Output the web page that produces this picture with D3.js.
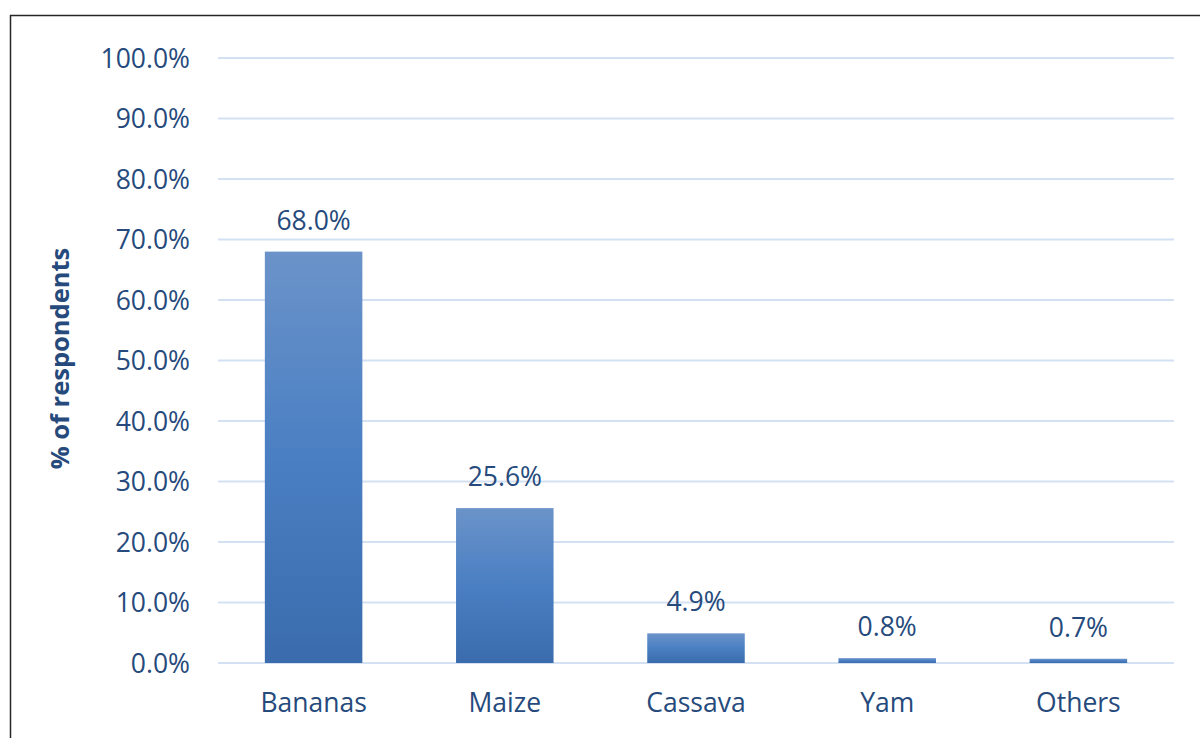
<!DOCTYPE html>
<html>
<head>
<meta charset="utf-8">
<script src="https://cdn.jsdelivr.net/npm/d3@7"></script>
<style>
  body { margin: 0; background: #fff; }
  svg text { font-family: "Open Sans", sans-serif; fill: #264a7c; }
</style>
</head>
<body>
<svg id="chart" width="1200" height="738"></svg>
<script>
// data
const categories = ["Bananas", "Maize", "Cassava", "Yam", "Others"];
const values = [68.0, 25.6, 4.9, 0.8, 0.7];
const yTicks = [0, 10, 20, 30, 40, 50, 60, 70, 80, 90, 100];

//dimensions
const width = 1200;
const height = 738;
const margin = { left: 218, right: 26, top: 58, bottom: 75 };

const svg = d3.select("#chart");

// chart frame
svg.append("path")
    .attr("d", "M10.5,738 L10.5,15.5 L1200,15.5")
    .attr("fill", "none")
    .attr("stroke", "#262626")
    .attr("stroke-width", 1.5);

const x = d3.scaleBand()
    .domain(categories)
    .range([margin.left, width - margin.right])
    .paddingInner(0.49)
    .paddingOuter(0.245);

const y = d3.scaleLinear()
    .domain([0, 100])
    .range([height - margin.bottom, margin.top]);

// gradient for bars
const defs = svg.append("defs");
const grad = defs.append("linearGradient")
    .attr("id", "barGrad")
    .attr("x1", 0).attr("y1", 0).attr("x2", 0).attr("y2", 1);
grad.append("stop").attr("offset", "0%").attr("stop-color", "#6b93c9");
grad.append("stop").attr("offset", "50%").attr("stop-color", "#4a7fc3");
grad.append("stop").attr("offset", "100%").attr("stop-color", "#3a6cad");

// gridlines
svg.append("g")
    .attr("class", "grid")
    .selectAll("line")
    .data(yTicks)
    .join("line")
        .attr("x1", margin.left)
        .attr("x2", width - margin.right)
        .attr("y1", d => y(d))
        .attr("y2", d => y(d))
        .attr("stroke", "#d4e1f3")
        .attr("stroke-width", 2);

// y axis labels
const yAxis = d3.axisLeft(y)
    .tickValues(yTicks)
    .tickSize(0)
    .tickPadding(28)
    .tickFormat(d => d.toFixed(1) + "%");
const yAxisG = svg.append("g")
    .attr("transform", "translate(" + margin.left + ",0)")
    .call(yAxis);
yAxisG.select(".domain").remove();
yAxisG.selectAll("text")
    .style("font-size", "26.5px")
    .attr("dy", "0.35em")
    .style("font-family", "'Open Sans', sans-serif")
    .attr("fill", "#264a7c");

// bars
svg.append("g")
    .selectAll("rect")
    .data(values)
    .join("rect")
        .attr("x", (d, i) => x(categories[i]))
        .attr("width", x.bandwidth())
        .attr("y", d => y(d))
        .attr("height", d => y(0) - y(d))
        .attr("fill", "url(#barGrad)");

// value labels
svg.append("g")
    .selectAll("text")
    .data(values)
    .join("text")
        .attr("x", (d, i) => x(categories[i]) + x.bandwidth() / 2)
        .attr("y", d => y(d) - 22)
        .attr("text-anchor", "middle")
        .style("font-size", "26.5px")
        .text(d => d.toFixed(1) + "%");

// x axis labels
const xAxis = d3.axisBottom(x).tickSize(0).tickPadding(30);
const xAxisG = svg.append("g")
    .attr("transform", "translate(0," + y(0) + ")")
    .call(xAxis);
xAxisG.select(".domain").remove();
xAxisG.selectAll("text")
    .style("font-size", "26.5px")
    .style("font-family", "'Open Sans', sans-serif")
    .attr("fill", "#264a7c");

// y axis title
svg.append("text")
    .attr("transform", "translate(69," + ((y(0) + y(100)) / 2 - 2) + ") rotate(-90)")
    .attr("text-anchor", "middle")
    .style("font-size", "25.5px")
    .style("font-weight", "bold")
    .text("% of respondents");
</script>
</body>
</html>
